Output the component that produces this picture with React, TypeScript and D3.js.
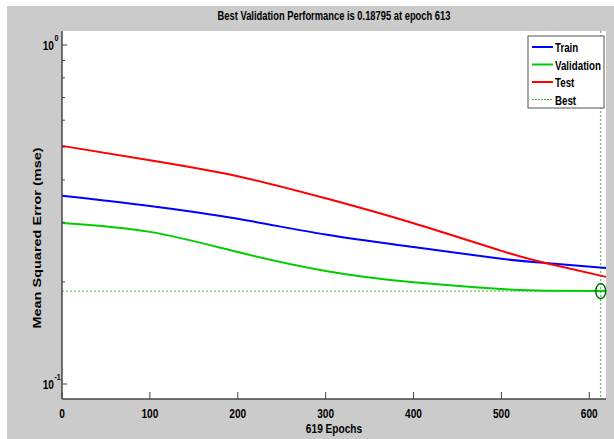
import React from 'react';
import * as d3 from 'd3';

// values
const epochs = [0, 100, 200, 300, 400, 500, 550, 619];
const trainMse = [0.359, 0.335, 0.307, 0.276, 0.2535, 0.234, 0.2275, 0.22];
const validationMse = [0.2985, 0.281, 0.245, 0.2155, 0.1995, 0.1906, 0.1885, 0.188];
const testMse = [0.504, 0.457, 0.41, 0.353, 0.298, 0.247, 0.2275, 0.207];
const bestEpoch = 613;
const bestValue = 0.18795;
const xTicks = [0, 100, 200, 300, 400, 500, 600];
const yMajor = [0.1, 1];
const yMinor = [0.2, 0.3, 0.4, 0.5, 0.6, 0.7, 0.8, 0.9];
const legendItems = ['Train', 'Validation', 'Test', 'Best'];
const colors = ['#0000ff', '#00cc00', '#ff0000', '#33bb33'];

const W = 614;
const H = 439;
const plot = { left: 62, right: 606, top: 31, bottom: 399 };
const FONT = '"Liberation Sans", Arial, sans-serif';
const SX = 0.78; // the text in the picture is squeezed sideways

const xScale = d3.scaleLinear().domain([0, 619]).range([plot.left, plot.right]);
const yScale = d3.scaleLog().domain([0.1, 1]).range([384, 45]);

// a squeezed bit of text
const Txt = ({ x, y, size = 11, anchor = 'start', rotate = 0, children }: any) => (
  <g transform={`translate(${x},${y}) rotate(${rotate}) scale(${rotate ? 1 : SX},${rotate ? SX : 1})`}>
    <text fontFamily={FONT} fontWeight="bold" fontSize={size} textAnchor={anchor} fill="#000">
      {children}
    </text>
  </g>
);

export default function App() {
  const line = d3
    .line<number>()
    .x((_, i) => xScale(epochs[i]))
    .y((d) => yScale(d))
    .curve(d3.curveNatural);

  const series = [trainMse, validationMse, testMse];

  return (
    <div style={{ position: 'fixed', left: 0, top: 0 }}>
      <svg width={W} height={H} style={{ display: 'block', background: '#fff' }}>
        <rect x={7} y={6} width={W - 7} height={H - 6} fill="#cbcbcb" />
        <rect x={plot.left} y={plot.top} width={plot.right - plot.left} height={plot.bottom - plot.top} fill="#fff" />

        {/* title */}
        <Txt x={(plot.left + plot.right) / 2} y={20} anchor="middle" size={12}>
          Best Validation Performance is 0.18795 at epoch 613
        </Txt>

        {/* best markers */}
        <line x1={xScale(bestEpoch)} x2={xScale(bestEpoch)} y1={plot.top} y2={plot.bottom}
          stroke={colors[3]} strokeWidth={1} strokeDasharray="2,2" />
        <line x1={plot.left} x2={plot.right} y1={yScale(bestValue)} y2={yScale(bestValue)}
          stroke={colors[3]} strokeWidth={1} strokeDasharray="2,2" />

        {/* curves */}
        {series.map((s, i) => (
          <path key={i} d={line(s) || ''} fill="none" stroke={colors[i]} strokeWidth={2} />
        ))}

        <ellipse cx={xScale(bestEpoch)} cy={yScale(bestValue)} rx={5} ry={7.5}
          fill="none" stroke="#006d00" strokeWidth={1.5} />

        {/* axes */}
        <line x1={plot.left} x2={plot.left} y1={plot.top} y2={plot.bottom} stroke="#444" strokeWidth={1.5} />
        <line x1={plot.left} x2={plot.right} y1={plot.bottom} y2={plot.bottom} stroke="#444" strokeWidth={1.5} />

        {xTicks.map((t) => (
          <g key={t}>
            <line x1={xScale(t)} x2={xScale(t)} y1={plot.bottom} y2={plot.bottom - 7} stroke="#444" />
            <Txt x={xScale(t)} y={418} anchor="middle" size={13}>{t}</Txt>
          </g>
        ))}

        {yMajor.map((t) => (
          <g key={t}>
            <line x1={plot.left} x2={plot.left + 5} y1={yScale(t)} y2={yScale(t)} stroke="#444" />
            <Txt x={54} y={yScale(t) + 5} anchor="end" size={13}>10</Txt>
            <Txt x={54.5} y={yScale(t) - 4} size={9}>{Math.round(Math.log10(t))}</Txt>
          </g>
        ))}
        {yMinor.map((t) => (
          <line key={t} x1={plot.left} x2={plot.left + 3} y1={yScale(t)} y2={yScale(t)} stroke="#444" />
        ))}

        {/* axis labels */}
        <Txt x={(plot.left + plot.right) / 2} y={433} anchor="middle" size={13}>619 Epochs</Txt>
        <Txt x={41} y={238} anchor="middle" size={14.5} rotate={-90}>
          Mean Squared Error  (mse)
        </Txt>

        {/* legend */}
        <rect x={528} y={36} width={76} height={72} fill="#fff" stroke="#555" strokeWidth={1} />
        {legendItems.map((name, i) => (
          <g key={name}>
            <line x1={532} x2={553} y1={47 + i * 17.5} y2={47 + i * 17.5}
              stroke={colors[i]} strokeWidth={i === 3 ? 1 : 2} strokeDasharray={i === 3 ? '2,1' : undefined} />
            <Txt x={555} y={52 + i * 17.5} size={12.5}>{name}</Txt>
          </g>
        ))}
      </svg>
    </div>
  );
}
